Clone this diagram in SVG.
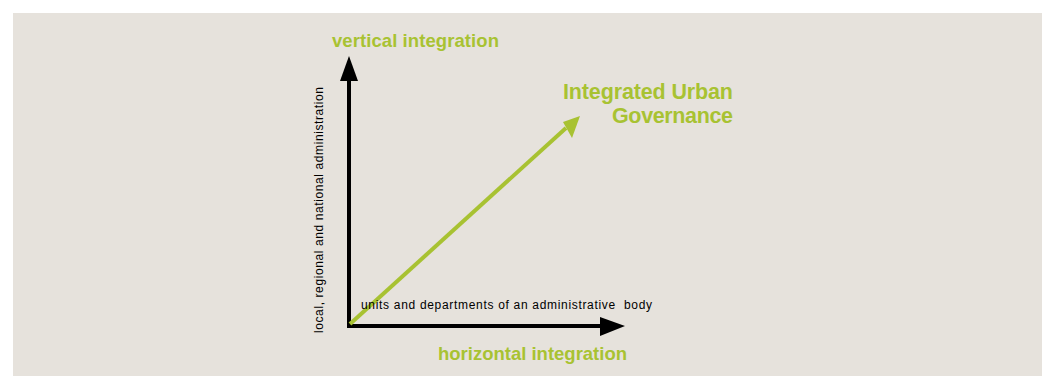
<svg xmlns="http://www.w3.org/2000/svg" width="1045" height="376" viewBox="0 0 1045 376">
<defs>
<style>
.g{fill:#a8c232;font-family:"Liberation Sans",Arial,sans-serif;font-weight:bold;font-size:18.5px}
.b{font-size:21.5px}
.s{fill:#000;font-family:"Liberation Sans",Arial,sans-serif;font-size:12px}
.ax{stroke:#000;stroke-width:4;fill:none}
.gr{stroke:#a8c232;stroke-width:4;fill:none}
</style>
</defs>
<rect x="0" y="0" width="1045" height="376" fill="#fff"/>
<rect x="13" y="13" width="1029" height="363" fill="#e6e2dc"/>
<g id="connectors">
<path class="ax" d="M349,326 V78"/>
<polygon points="349,56 340,81 358,81" fill="#000"/>
<path class="ax" d="M347,326 H603"/>
<polygon points="625,326 600,317 600,336" fill="#000"/>
<path class="gr" d="M350,324 L566,128"/>
<polygon points="580,116 563,122 572,138" fill="#a8c232"/>
</g>
<g id="vertical-label"><text class="g" x="332" y="47" textLength="167">vertical integration</text></g>
<g id="horizontal-label"><text class="g" x="438" y="360" textLength="189">horizontal integration</text></g>
<g id="iug-label"><text class="g b" x="563" y="99" textLength="170">Integrated Urban</text><text class="g b" x="612" y="123" textLength="121">Governance</text></g>
<g id="units-label"><text class="s" x="361" y="309" xml:space="preserve" style="white-space:pre" textLength="291">units and departments of an administrative  body</text></g>
<g id="levels-label"><text class="s" transform="translate(323,333) rotate(-90)" x="0" y="0" textLength="246">local, regional and national administration</text></g>
</svg>
